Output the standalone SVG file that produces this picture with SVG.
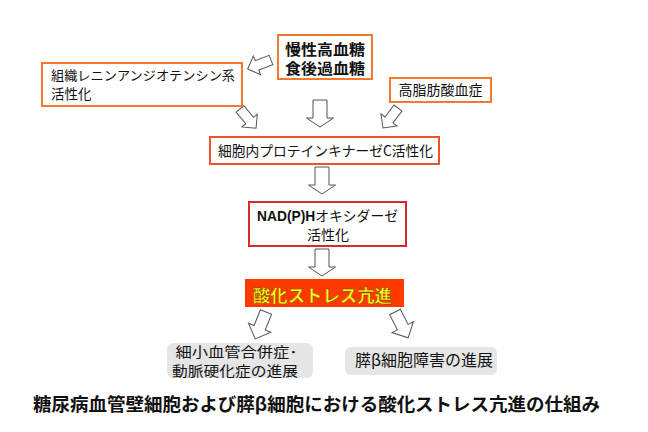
<svg xmlns="http://www.w3.org/2000/svg" width="648" height="432" viewBox="0 0 648 432">
<defs>
<style>
.t{font-family:"Noto Sans CJK JP","Liberation Sans",sans-serif;fill:#111;}
.b{font-weight:bold;}
.box{fill:#fff;stroke-width:2;}
.or{stroke:#F07A2E;}
.ro{stroke:#EC532B;}
.rd{stroke:#D92A2A;}
.gray{fill:#E6E6E6;stroke:none;}
.arr{fill:#fff;stroke:#555;stroke-width:1;stroke-linejoin:miter;}
</style>
<polygon id="big" points="-7,0 7,0 7,18 13.5,18 0,27 -13.5,18 -7,18"/>
<polygon id="sm" points="-5,0 5,0 5,15 10,15 0,25 -10,15 -5,15"/>
<polygon id="md" points="-6,0 6,0 6,17 12,17 0,29 -12,17 -6,17"/>
</defs>
<rect width="648" height="432" fill="#fff"/>

<g id="connectors">
<use href="#sm" class="arr" transform="translate(271,60) rotate(69)"/>
<use href="#sm" class="arr" transform="translate(240,109) rotate(-40)"/>
<use href="#big" class="arr" transform="translate(320,100)"/>
<use href="#sm" class="arr" transform="translate(398,108) rotate(37)"/>
<use href="#big" class="arr" transform="translate(322,167)"/>
<use href="#big" class="arr" transform="translate(322,249)"/>
<use href="#md" class="arr" transform="translate(266,312) rotate(22)"/>
<use href="#md" class="arr" transform="translate(395,312) rotate(-27)"/>
</g>

<g id="hyperglycemia">
<rect class="box or" x="278" y="35" width="94" height="44"/>
<text class="t b" x="325" y="55" font-size="15" text-anchor="middle" textLength="80" lengthAdjust="spacingAndGlyphs">慢性高血糖</text>
<text class="t b" x="325" y="74" font-size="15" text-anchor="middle" textLength="80" lengthAdjust="spacingAndGlyphs">食後過血糖</text>
</g>

<g id="ras">
<rect class="box or" x="42" y="63" width="200" height="43"/>
<text class="t" x="51" y="80" font-size="13" textLength="184" lengthAdjust="spacingAndGlyphs">組織レニンアンジオテンシン系</text>
<text class="t" x="51" y="99" font-size="13.5">活性化</text>
</g>

<g id="ffa">
<rect class="box or" x="390" y="78" width="101" height="24"/>
<text class="t" x="440.5" y="95" font-size="14" text-anchor="middle">高脂肪酸血症</text>
</g>

<g id="pkc">
<rect class="box ro" x="210" y="137" width="229" height="27"/>
<text class="t" x="218" y="156" font-size="14" textLength="215" lengthAdjust="spacingAndGlyphs">細胞内プロテインキナーゼC活性化</text>
</g>

<g id="nadph">
<rect class="box rd" x="249" y="202" width="157" height="44"/>
<text class="t" x="257" y="221" font-size="14" textLength="141" lengthAdjust="spacingAndGlyphs"><tspan font-family="Liberation Sans" font-weight="bold">NAD(P)H</tspan>オキシダーゼ</text>
<text class="t" x="328" y="240" font-size="14" text-anchor="middle">活性化</text>
</g>

<g id="oxstress">
<rect x="245" y="279" width="159" height="28" fill="#FF3A00"/>
<text class="t b" x="253" y="302" font-size="17.5" textLength="139" lengthAdjust="spacingAndGlyphs" style="fill:#FFFF1A;stroke:#6a3a00;stroke-width:0.4">酸化ストレス亢進</text>
</g>

<g id="micro">
<rect class="gray" x="167" y="343" width="146" height="35" rx="6"/>
<text class="t" x="236.5" y="357" font-size="13.5" text-anchor="middle" textLength="122" lengthAdjust="spacingAndGlyphs">細小血管合併症･</text>
<text class="t" x="235" y="376" font-size="14" text-anchor="middle" textLength="126" lengthAdjust="spacingAndGlyphs">動脈硬化症の進展</text>
</g>

<g id="beta">
<rect class="gray" x="345" y="347" width="152" height="28" rx="6"/>
<text class="t" x="355" y="366" font-size="15.5" textLength="138" lengthAdjust="spacingAndGlyphs">膵β細胞障害の進展</text>
</g>

<text class="t b" x="33" y="411" font-size="18" textLength="567" lengthAdjust="spacingAndGlyphs">糖尿病血管壁細胞および膵β細胞における酸化ストレス亢進の仕組み</text>
</svg>
